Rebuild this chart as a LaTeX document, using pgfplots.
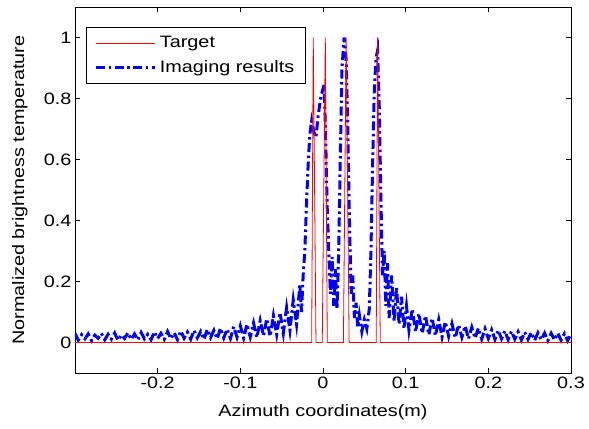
\documentclass[border=0pt]{standalone}
\usepackage{fontspec}
\setmainfont{Liberation Sans}[FakeStretch=1.2]
\usepackage{pgfplots}
\pgfplotsset{compat=1.18}
\newcommand{\figfont}{\fontsize{16.5bp}{20bp}\selectfont}

\begin{document}
\begin{tikzpicture}
\begin{axis}[
  name=ax,
  scale only axis,
  width=496bp, height=366bp,
  xmin=-0.3, xmax=0.3, ymin=-0.1, ymax=1.1,
  xtick={-0.2,-0.1,0,0.1,0.2,0.3},
  ytick={0,0.2,0.4,0.6,0.8,1},
  tick align=inside,
  major tick length=5bp,
  axis line style={line width=0.9bp},
  tick style={black, line width=0.9bp},
  /pgf/number format/assume math mode=true,
  ticklabel style={font=\figfont},
  label style={font=\figfont},
  xlabel={Azimuth coordinates(m)},
  ylabel={Normalized brightness temperature},
  xlabel style={at={(axis description cs:0.5,-0.1066)}, anchor=center},
  ylabel style={at={(axis description cs:-0.111,0.5)}, anchor=center},
  legend cell align=left,
  legend style={at={(axis description cs:0.0222,0.9454)}, anchor=north west,
    font=\figfont, draw=black, line width=0.9bp,
    inner xsep=8.5bp, inner ysep=6bp, row sep=5bp,
    nodes={inner sep=3bp, text depth=0.2em}},
  legend image code/.code={\draw[#1] (0bp,0bp) -- (59bp,0bp);},
  reverse legend,
]
% imaging result (drawn first, red target on top)
\addplot[blue, line width=3bp, dash pattern=on 9bp off 3.5bp on 2.5bp off 3.5bp] coordinates {
(-0.300,0.030) (-0.296,0.008) (-0.292,0.026) (-0.288,0.012) (-0.284,0.028) (-0.280,0.006)
(-0.276,0.024) (-0.272,0.014) (-0.268,0.030) (-0.264,0.009) (-0.260,0.027) (-0.256,0.011)
(-0.252,0.031) (-0.248,0.007) (-0.244,0.025) (-0.240,0.013) (-0.236,0.032) (-0.232,0.010)
(-0.228,0.028) (-0.224,0.008) (-0.220,0.033) (-0.216,0.012) (-0.212,0.027) (-0.208,0.009)
(-0.204,0.035) (-0.200,0.013) (-0.196,0.030) (-0.192,0.010) (-0.188,0.036) (-0.184,0.012)
(-0.180,0.032) (-0.176,0.009) (-0.172,0.038) (-0.168,0.014) (-0.164,0.034) (-0.160,0.011)
(-0.156,0.040) (-0.152,0.015) (-0.148,0.036) (-0.144,0.010) (-0.140,0.043) (-0.136,0.016)
(-0.132,0.040) (-0.128,0.012) (-0.124,0.047) (-0.120,0.015) (-0.116,0.044) (-0.112,0.013)
(-0.108,0.052) (-0.104,0.017) (-0.100,0.055) (-0.096,0.014) (-0.092,0.060) (-0.088,0.018)
(-0.084,0.064) (-0.080,0.016) (-0.076,0.072) (-0.072,0.022) (-0.068,0.078) (-0.064,0.020)
(-0.060,0.088) (-0.056,0.026) (-0.052,0.098) (-0.048,0.030) (-0.044,0.115) (-0.040,0.040)
(-0.036,0.140) (-0.032,0.060) (-0.028,0.190) (-0.026,0.100) (-0.024,0.220)
(-0.022,0.30) (-0.020,0.45) (-0.018,0.58) (-0.016,0.68) (-0.0137,0.727) (-0.011,0.69)
(-0.0085,0.673) (-0.006,0.74) (-0.003,0.80) (0.0012,0.845) (0.003,0.70) (0.005,0.45)
(0.007,0.30) (0.009,0.16) (0.011,0.28) (0.013,0.12) (0.015,0.24) (0.017,0.11)
(0.019,0.30) (0.021,0.62) (0.023,0.90) (0.0255,1.0) (0.028,0.93) (0.030,0.70)
(0.032,0.40) (0.034,0.16) (0.036,0.22) (0.038,0.08) (0.040,0.13) (0.042,0.05)
(0.044,0.09) (0.047,0.036) (0.050,0.075) (0.053,0.045) (0.056,0.11) (0.058,0.30)
(0.060,0.58) (0.062,0.82) (0.064,0.93) (0.066,0.957) (0.068,0.78) (0.070,0.48)
(0.072,0.22) (0.074,0.30) (0.076,0.12) (0.078,0.26) (0.080,0.08) (0.083,0.22)
(0.086,0.07) (0.089,0.18) (0.092,0.06) (0.095,0.15) (0.098,0.045) (0.101,0.12)
(0.104,0.040) (0.108,0.110) (0.112,0.035) (0.116,0.095) (0.120,0.030) (0.124,0.088)
(0.128,0.025) (0.132,0.080) (0.136,0.022) (0.140,0.075) (0.144,0.018) (0.148,0.068)
(0.152,0.020) (0.156,0.062) (0.160,0.015) (0.164,0.058) (0.168,0.017) (0.172,0.054)
(0.176,0.012) (0.180,0.050) (0.184,0.014) (0.188,0.047) (0.192,0.011) (0.196,0.045)
(0.200,0.013) (0.204,0.042) (0.208,0.010) (0.212,0.040) (0.216,0.012) (0.220,0.038)
(0.224,0.009) (0.228,0.037) (0.232,0.011) (0.236,0.035) (0.240,0.008) (0.244,0.034)
(0.248,0.010) (0.252,0.033) (0.256,0.007) (0.260,0.032) (0.264,0.009) (0.268,0.031)
(0.272,0.006) (0.276,0.030) (0.280,0.008) (0.284,0.031) (0.288,0.007) (0.292,0.029)
(0.296,0.006) (0.300,0.028)
};
\addlegendentry{Imaging results}
% target
\addplot[red, line width=0.8bp] coordinates {
(-0.300,0) (-0.0137,0) (-0.0118,1) (-0.0085,0) (-0.0009,0) (0.0028,1) (0.0052,0)
(0.0247,0) (0.0280,1) (0.0316,0) (0.0644,0) (0.0660,1) (0.0693,0) (0.300,0)
};
\addlegendentry{Target}
\end{axis}
\path (ax.south west) ++(-75bp,-56bp) rectangle ++(589bp,429bp);
\end{tikzpicture}
\end{document}
